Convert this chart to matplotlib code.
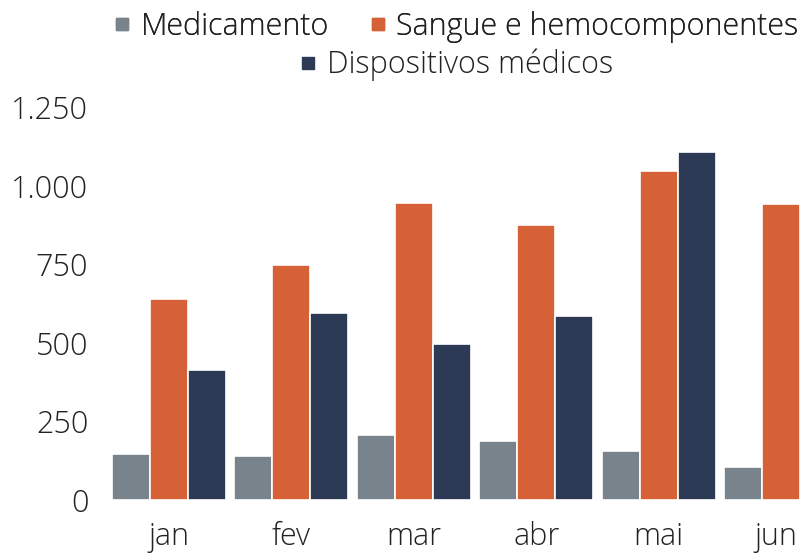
import numpy as np
import matplotlib.pyplot as plt
import matplotlib.transforms as mtransforms
from matplotlib.lines import Line2D
from matplotlib.ticker import FuncFormatter

plt.rcParams['font.family'] = ['Open Sans', 'DejaVu Sans']
plt.rcParams['font.weight'] = 'light'

meses = ['jan', 'fev', 'mar', 'abr', 'mai', 'jun']
medicamento = [145, 141, 207, 189, 157, 106]
sangue = [640, 749, 946, 876, 1045, 942]
dispositivos = [412, 594, 497, 584, 1106, np.nan]  # jun fica fora do recorte

series = ['Medicamento', 'Sangue e hemocomponentes', 'Dispositivos médicos']
cores = ['#78838C', '#D66136', '#2D3A55']
txt = '#222222'

fig = plt.figure(figsize=(8, 5.53), dpi=100)
ax = fig.add_axes([0.13125, 1 - 500 / 553, 0.869, 393 / 553])

x = np.arange(len(meses))
w = 0.31
for i, (vals, cor) in enumerate(zip([medicamento, sangue, dispositivos], cores)):
    ax.bar(x + (i - 1) * w, vals, width=w, color=cor, edgecolor='white', linewidth=1.2)

ax.set_ylim(0, 1250)
ax.set_xlim(-0.52, 5.155)
ax.set_yticks([0, 250, 500, 750, 1000, 1250])
ax.yaxis.set_major_formatter(FuncFormatter(lambda v, p: f'{int(v):,}'.replace(',', '.')))
ax.set_xticks(x)
ax.set_xticklabels(meses)
ax.tick_params(axis='both', length=0, labelsize=22, colors=txt)
ax.tick_params(axis='y', pad=12)
ax.tick_params(axis='x', pad=15)
for s in ax.spines.values():
    s.set_visible(False)

# o rótulo "jun" encosta na borda direita
lab = ax.get_xticklabels()[-1]
lab.set_transform(lab.get_transform() + mtransforms.ScaledTranslation(-4 / 72, 0, fig.dpi_scale_trans))

handles = [Line2D([], [], marker='s', linestyle='', markersize=8, color=c) for c in cores]
leg1 = fig.legend(handles[:2], series[:2], loc='center', bbox_to_anchor=(0.57, 1 - 27 / 553),
                  ncol=2, frameon=False, fontsize=22, handletextpad=0.3, columnspacing=1.3,
                  handlelength=0.6, borderpad=0, labelcolor=txt)
leg2 = fig.legend(handles[2:], series[2:], loc='center', bbox_to_anchor=(0.57, 1 - 65 / 553),
                  frameon=False, fontsize=22, handletextpad=0.3, handlelength=0.6,
                  borderpad=0, labelcolor=txt)
fig.add_artist(leg1)

fig.savefig('out.png', dpi=100)
